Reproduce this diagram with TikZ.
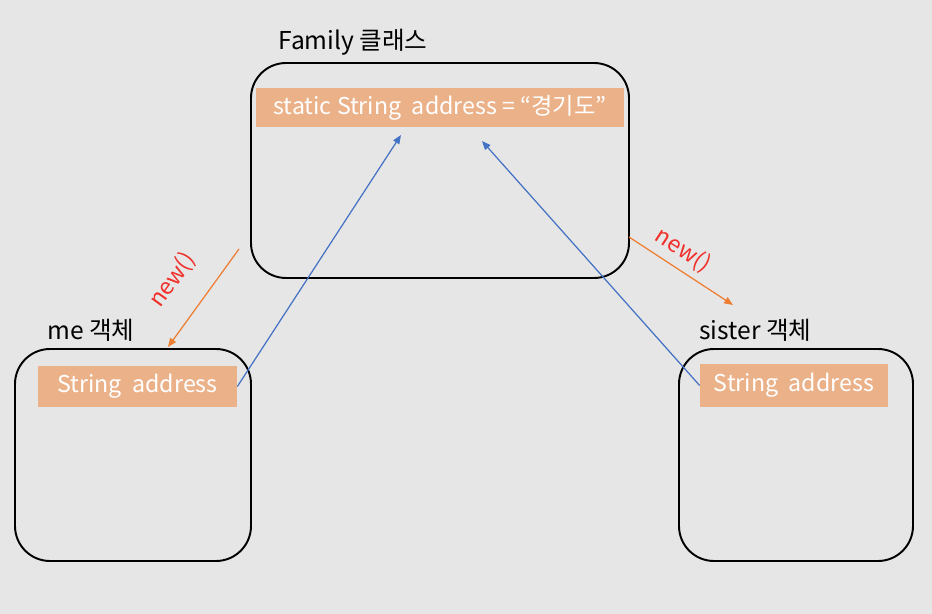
\documentclass[tikz,border=0pt]{standalone}
\usepackage{fontspec}
\setmainfont{Noto Sans CJK KR}
\usepackage{xcolor}
\usepackage{tikz}
\usetikzlibrary{arrows.meta}
\definecolor{bggray}{HTML}{E7E6E6}
\definecolor{barorange}{HTML}{EBB28A}
\definecolor{arrblue}{HTML}{4472C4}
\definecolor{arrorange}{HTML}{ED7D31}
\definecolor{newred}{HTML}{F0302A}

\begin{document}
\begin{tikzpicture}[
    objbox/.style={draw, line width=1.1pt, rounded corners=0.7cm},
    fieldbar/.style={fill=barorange, text=white, inner sep=0pt, font=\fontsize{13.2}{15}\selectfont},
    title/.style={anchor=west, inner sep=0pt, font=\fontsize{14}{16}\selectfont},
    newlbl/.style={text=newred, inner sep=0pt, font=\fontsize{13}{15}\selectfont},
    refarrow/.style={arrblue, line width=0.7pt, -{Triangle[length=5pt,width=4pt]}},
    newarrow/.style={arrorange, line width=0.7pt, -{Triangle[length=5pt,width=4pt]}}
]
    \fill[bggray] (0,0) rectangle (18.64,-12.28);
    \useasboundingbox (0,0) rectangle (18.64,-12.28);
    \node(family)[objbox, minimum width=7.56cm, minimum height=4.3cm] at (8.8,-3.41) {};
    \node(me)[objbox, minimum width=4.72cm, minimum height=4.24cm] at (2.66,-9.1) {};
    \node(sister)[objbox, minimum width=4.68cm, minimum height=4.24cm] at (15.92,-9.1) {};
    \node(familytitle)[title] at (5.56,-0.84) {Family 클래스};
    \node(metitle)[title] at (0.94,-6.6) {me 객체};
    \node(sistertitle)[title] at (13.98,-6.6) {sister 객체};
    \node(staticaddr)[fieldbar, minimum width=7.36cm, minimum height=0.78cm] at (8.8,-2.15) {static String~~address = “경기도”};
    \node(meaddr)[fieldbar, minimum width=3.98cm, minimum height=0.82cm] at (2.75,-7.73) {String~~address};
    \node(sisteraddr)[fieldbar, minimum width=3.76cm, minimum height=0.86cm] at (15.88,-7.71) {String~~address};
    \coordinate(mefrom) at (4.78,-4.98);
    \coordinate(meto) at (3.36,-6.94);
    \coordinate(sisterfrom) at (12.58,-4.74);
    \coordinate(sisterto) at (14.66,-6.1);
    \coordinate(meref) at (8.02,-2.7);
    \coordinate(sisterref) at (9.64,-2.82);
    \draw[newarrow] (mefrom) -- (meto);
    \draw[newarrow] (sisterfrom) -- (sisterto);
    \draw[refarrow] (meaddr.east) -- (meref);
    \draw[refarrow] (sisteraddr.west) -- (sisterref);
    \node(menew)[newlbl, rotate=54] at (3.45,-5.6) {new()};
    \node(sisternew)[newlbl, rotate=-33] at (13.66,-5.0) {new()};
\end{tikzpicture}
\end{document}
